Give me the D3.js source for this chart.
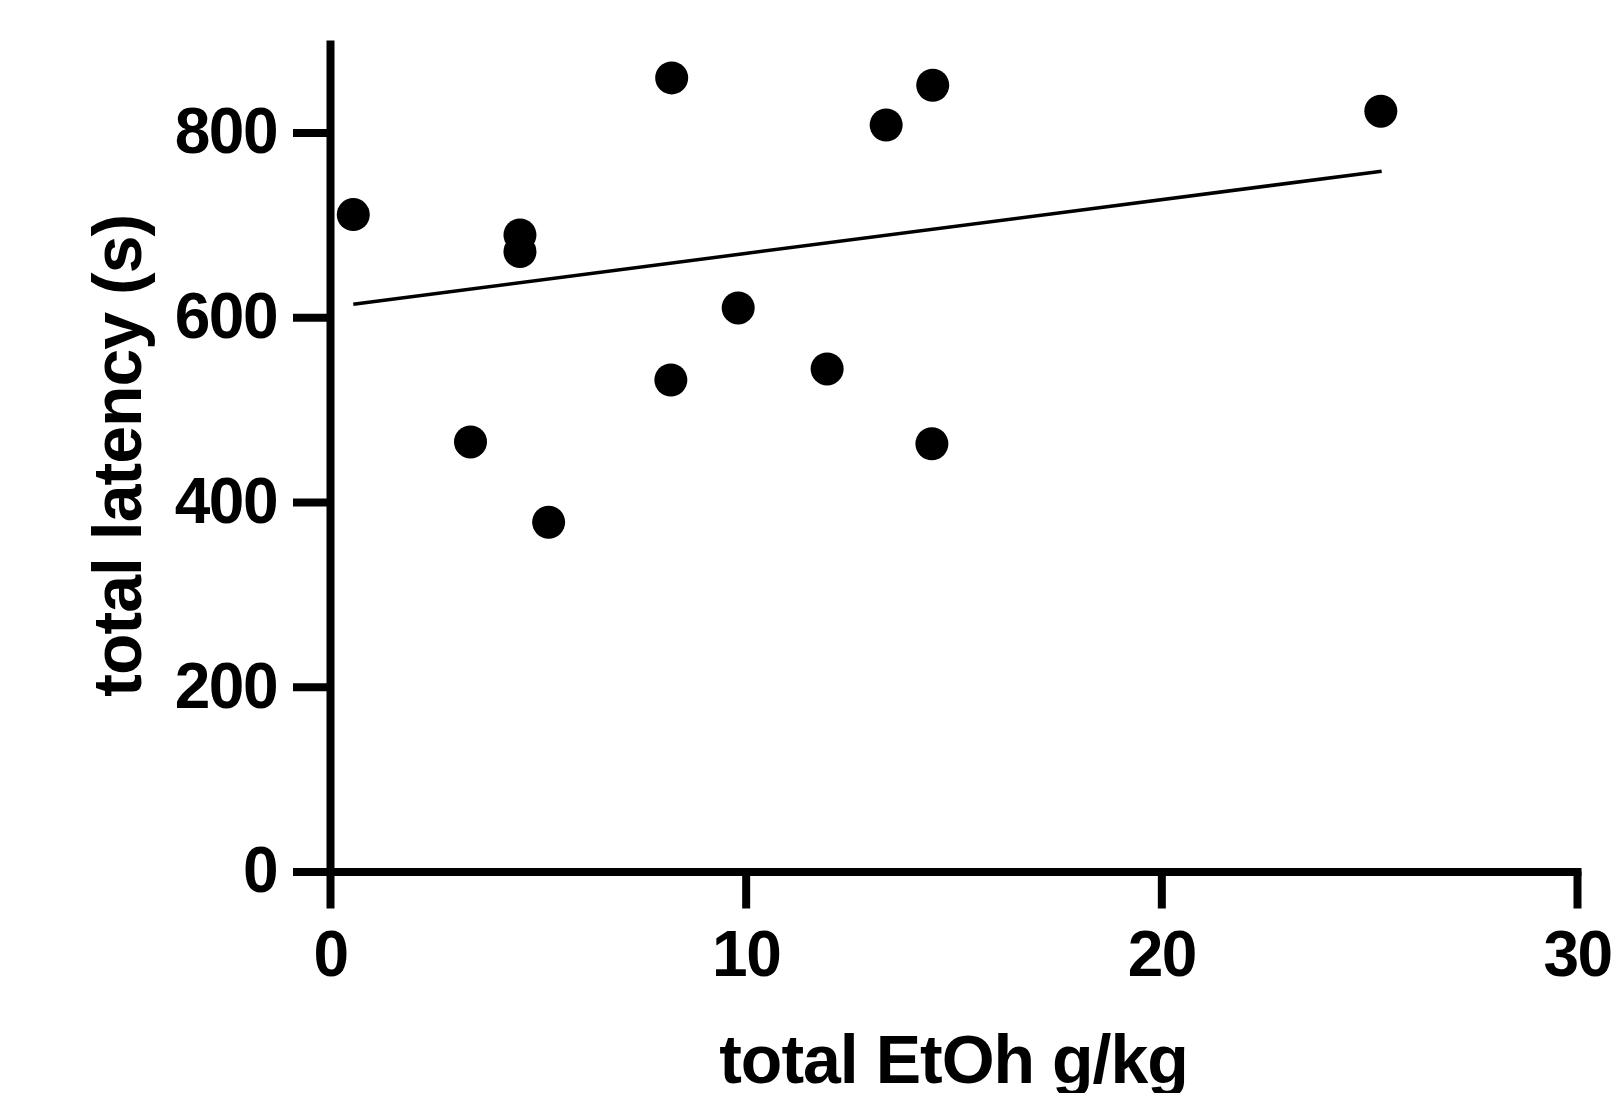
<!DOCTYPE html>
<html>
<head>
<meta charset="utf-8">
<script src="https://cdn.jsdelivr.net/npm/d3@7"></script>
<style>
  body { margin: 0; background: #fff; }
  svg { display: block; font-family: "Liberation Sans", Arial, sans-serif; font-weight: bold; }
</style>
</head>
<body>
<div id="wrapper"></div>
<script>
// data
const ethanol = [0.56, 3.38, 4.57, 4.57, 5.26, 8.22, 8.2, 9.82, 11.96, 13.38, 14.5, 14.48, 25.28]
const latency = [711, 465, 689, 671, 378, 859, 532, 610, 544, 808, 851, 463, 823]
const fitX = [0.56, 25.3]
const fitY = [614, 758]
const xTicks = [0, 10, 20, 30]
const yTicks = [0, 200, 400, 600, 800]

function drawChart() {
  const dataset = ethanol.map((d, i) => ({ x: d, y: latency[i] }))
  const fitLine = fitX.map((d, i) => ({ x: d, y: fitY[i] }))

  const xAccessor = d => d.x
  const yAccessor = d => d.y

  let dimensions = {
    width: 1611,
    height: 1093,
    margin: {
      top: 40,
      right: 34,
      bottom: 221.5,
      left: 330,
    },
  }
  dimensions.boundedWidth = dimensions.width - dimensions.margin.left - dimensions.margin.right
  dimensions.boundedHeight = dimensions.height - dimensions.margin.top - dimensions.margin.bottom

  const wrapper = d3.select("#wrapper")
    .append("svg")
      .attr("width", dimensions.width)
      .attr("height", dimensions.height)

  const bounds = wrapper.append("g")
      .attr("transform", `translate(${dimensions.margin.left}, ${dimensions.margin.top})`)

  // scales
  const xScale = d3.scaleLinear()
    .domain([0, 30])
    .range([0, dimensions.boundedWidth])

  const yScale = d3.scaleLinear()
    .domain([0, 900])
    .range([dimensions.boundedHeight, 0])

  // axes
  const yAxisGenerator = d3.axisLeft(yScale)
    .tickValues(yTicks)
    .tickSize(37)
    .tickSizeOuter(0)
    .tickPadding(16)

  const yAxis = bounds.append("g")
      .attr("class", "y-axis")
      .call(yAxisGenerator)
  yAxis.select(".domain")
      .attr("stroke-width", 8)
  yAxis.selectAll(".tick line")
      .attr("stroke-width", 8)
  yAxis.selectAll(".tick text")
      .attr("font-size", 64)
      .attr("letter-spacing", -1.5)
      .attr("fill", "#000")
      .attr("font-family", null)

  const xAxisGenerator = d3.axisBottom(xScale)
    .tickValues(xTicks)
    .tickSize(37)
    .tickSizeOuter(0)
    .tickPadding(22)

  const xAxis = bounds.append("g")
      .attr("class", "x-axis")
      .attr("transform", `translate(0, ${dimensions.boundedHeight})`)
      .call(xAxisGenerator)
  xAxis.select(".domain")
      .attr("stroke-width", 8)
      .attr("stroke-linecap", "square")
  xAxis.selectAll(".tick line")
      .attr("stroke-width", 8)
  xAxis.selectAll(".tick text")
      .attr("font-size", 64)
      .attr("letter-spacing", -1.5)
      .attr("fill", "#000")
      .attr("font-family", null)
      .attr("dy", "0.71em")

  // axis titles
  bounds.append("text")
      .attr("x", dimensions.boundedWidth / 2)
      .attr("y", dimensions.boundedHeight + 211)
      .attr("text-anchor", "middle")
      .attr("font-size", 68)
      .attr("letter-spacing", -1)
      .text("total EtOh g/kg")

  bounds.append("text")
      .attr("transform", `translate(${-189}, ${dimensions.boundedHeight / 2}) rotate(-90)`)
      .attr("text-anchor", "middle")
      .attr("font-size", 68)
      .attr("letter-spacing", -1)
      .text("total latency (s)")

  // regression line
  const lineGenerator = d3.line()
    .x(d => xScale(xAccessor(d)))
    .y(d => yScale(yAccessor(d)))

  bounds.append("path")
      .datum(fitLine)
      .attr("d", lineGenerator)
      .attr("fill", "none")
      .attr("stroke", "#000")
      .attr("stroke-width", 3.5)

  // points
  bounds.selectAll("circle")
    .data(dataset)
    .join("circle")
      .attr("cx", d => xScale(xAccessor(d)))
      .attr("cy", d => yScale(yAccessor(d)))
      .attr("r", 16.5)
      .attr("fill", "#000")
}
drawChart()
</script>
</body>
</html>
